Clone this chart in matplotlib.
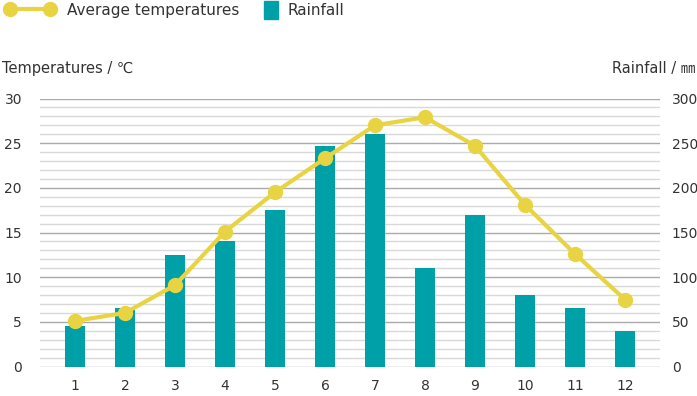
import numpy as np
import matplotlib.pyplot as plt
from matplotlib.lines import Line2D
from matplotlib.patches import Patch
from matplotlib.ticker import MultipleLocator

# 데이터
months = [1, 2, 3, 4, 5, 6, 7, 8, 9, 10, 11, 12]
temperatures = [5.1, 6.0, 9.1, 15.1, 19.5, 23.3, 27.0, 27.9, 24.7, 18.1, 12.6, 7.5]
rainfall = [45, 65, 125, 140, 175, 247, 260, 110, 170, 80, 65, 40]

teal = '#00A0A8'
yellow = '#E8D443'
text_c = '#333333'
fonts = ['DejaVu Sans', 'Noto Sans CJK JP']

plt.rcParams['font.family'] = fonts
plt.rcParams['font.size'] = 10.5

fig = plt.figure(figsize=(6.97, 3.96), dpi=100)
ax2 = fig.add_axes([40 / 697, 29.5 / 396, 620 / 697, 268 / 396])
ax = ax2.twinx()
ax.yaxis.tick_left()

# 강수량 막대 (뒤쪽)
ax2.bar(months, rainfall, width=0.4, color=teal, zorder=3)
ax2.set_ylim(0, 300)
ax2.set_xlim(0.3, 12.7)
ax2.yaxis.set_major_locator(MultipleLocator(50))
ax2.yaxis.set_minor_locator(MultipleLocator(10))
ax2.grid(which='major', axis='y', color='#aaaaaa', lw=1, zorder=0)
ax2.grid(which='minor', axis='y', color='#d9d9d9', lw=1, zorder=0)
ax2.yaxis.tick_right()
ax2.tick_params(axis='y', which='both', length=0, pad=8.5, labelcolor=text_c, labelsize=10)
ax2.tick_params(axis='x', length=0, pad=9, labelcolor=text_c, labelsize=10)
ax2.set_xticks(months)

# 평균기온 선 (앞쪽)
ax.plot(months, temperatures, color=yellow, lw=3, marker='o', ms=10, zorder=5)
ax.set_ylim(0, 30)
ax.yaxis.set_major_locator(MultipleLocator(5))
ax.tick_params(axis='y', length=0, pad=13, labelcolor=text_c, labelsize=10)
ax.set_zorder(ax2.get_zorder() + 1)
ax.patch.set_visible(False)

for a in (ax, ax2):
    for s in a.spines.values():
        s.set_visible(False)

fig.text(2 / 697, 1 - 68 / 396, 'Temperatures / ℃', ha='left', va='center', color=text_c, family=fonts)
fig.text(695 / 697, 1 - 68 / 396, 'Rainfall / ㎜', ha='right', va='center', color=text_c, family=fonts)

# 범례
leg1 = fig.legend([Line2D([0], [0], color=yellow, lw=3, marker='o', ms=10)],
                  ['Average temperatures'], loc='center left',
                  bbox_to_anchor=(-0.012, 1 - 10 / 396), frameon=False, numpoints=2,
                  handlelength=3.2, handletextpad=0.85, labelcolor=text_c, fontsize=11)
leg2 = fig.legend([Patch(color=teal)], ['Rainfall'], loc='center left',
                  bbox_to_anchor=(250 / 697, 1 - 10 / 396), frameon=False,
                  handlelength=0.95, handleheight=1.4, handletextpad=0.6,
                  labelcolor=text_c, fontsize=11)

fig.savefig('out.png', dpi=100)
